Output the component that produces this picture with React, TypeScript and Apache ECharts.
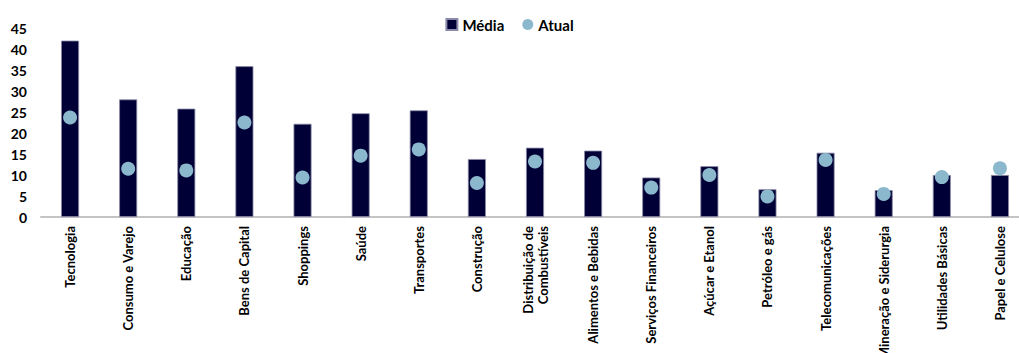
import React, { useEffect, useRef } from "react";
import * as echarts from "echarts";

const categories = [
  "Tecnologia",
  "Consumo e Varejo",
  "Educação",
  "Bens de Capital",
  "Shoppings",
  "Saúde",
  "Transportes",
  "Construção",
  "Distribuição de\nCombustíveis",
  "Alimentos e Bebidas",
  "Serviços Financeiros",
  "Açúcar e Etanol",
  "Petróleo e gás",
  "Telecomunicações",
  "Mineração e Siderurgia",
  "Utilidades Básicas",
  "Papel e Celulose",
];

const media = [42, 28, 25.8, 35.9, 22.2, 24.7, 25.4, 13.8, 16.5, 15.8, 9.4, 12.1, 6.6, 15.3, 6.4, 10, 10];
const atual = [23.7, 11.5, 11.1, 22.5, 9.4, 14.6, 16.1, 8.1, 13.2, 12.9, 7.0, 10.0, 4.9, 13.6, 5.5, 9.5, 11.6];

const yTicks = { min: 0, max: 45, interval: 5 };

const FONT = "Lato, 'Open Sans', sans-serif";

export default function App() {
  const ref = useRef<HTMLDivElement>(null);
  useEffect(() => {
    if (!ref.current) return;
    const chart = echarts.init(ref.current, undefined, { renderer: "svg" });
    chart.setOption({
      animation: false,
      backgroundColor: "#ffffff",
      textStyle: { fontFamily: FONT },
      legend: {
        top: 12,
        left: "center",
        itemGap: 18,
        itemWidth: 11,
        itemHeight: 11,
        textStyle: { fontFamily: FONT, fontWeight: "bold", fontSize: 15, color: "#000" },
        data: [
          { name: "Média", icon: "rect" },
          { name: "Atual", icon: "circle" },
        ],
      },
      grid: {
        left: 41,
        right: -10,
        top: 28,
        bottom: 136,
        containLabel: false,
        outerBoundsMode: "none",
      },
      xAxis: {
        type: "category",
        data: categories,
        axisLine: { show: true, lineStyle: { color: "#c4c4c4", width: 2 } },
        axisTick: { show: false },
        axisLabel: {
          interval: 0,
          rotate: 90,
          margin: 9,
          fontFamily: FONT,
          fontWeight: "bold",
          fontSize: 13,
          color: "#000",
          lineHeight: 15,
          hideOverlap: false,
        },
      },
      yAxis: {
        type: "value",
        min: yTicks.min,
        max: yTicks.max,
        interval: yTicks.interval,
        splitLine: { show: false },
        axisLine: { show: false },
        axisTick: { show: false },
        axisLabel: {
          margin: 14,
          fontFamily: FONT,
          fontWeight: "bold",
          fontSize: 14,
          color: "#000",
        },
      },
      series: [
        {
          name: "Média",
          type: "bar",
          data: media,
          barWidth: 18,
          itemStyle: { color: "#000036", borderColor: "#8a8aa8", borderWidth: 0.8 },
        },
        {
          name: "Atual",
          type: "scatter",
          data: atual,
          symbol: "circle",
          symbolSize: 14,
          itemStyle: { color: "#8bb8cc", opacity: 1 },
          z: 5,
        },
      ],
    });
    return () => chart.dispose();
  }, []);
  return (
    <div
      ref={ref}
      style={{ position: "fixed", left: 0, top: 0, width: 1019, height: 353 }}
    />
  );
}
